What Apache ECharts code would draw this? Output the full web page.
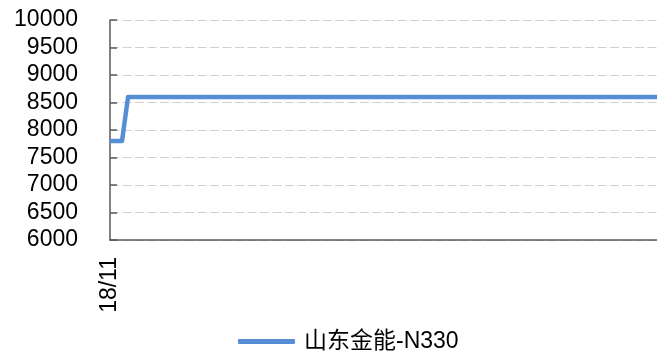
<!DOCTYPE html>
<html>
<head>
<meta charset="utf-8">
<script src="https://cdn.jsdelivr.net/npm/echarts@6/dist/echarts.min.js"></script>
<style>
  html, body { margin: 0; padding: 0; background: #fff; }
  #chart { width: 657px; height: 360px; }
</style>
</head>
<body>
<div id="chart"></div>
<script>
// day offsets of the line's vertices, counted from the first date
const dayIndex = [0, 2, 3, 91];
const prices = [7800, 7800, 8600, 8600];
const xLabels = ["18/11"];
const xLabelDays = [0];
const seriesName = "山东金能-N330";

const lineColor = "#558ed5";
const axisColor = "#595959";
const font = "'Liberation Sans', 'Noto Sans CJK SC', sans-serif";

const chart = echarts.init(document.getElementById("chart"));

chart.setOption({
  animation: false,
  backgroundColor: "#fff",
  grid: {
    left: 110,
    right: 0,
    top: 20,
    bottom: 120,
  },
  legend: {
    left: 238,
    top: 330,
    padding: 0,
    icon: "roundRect",
    itemWidth: 57,
    itemHeight: 5,
    itemGap: 0,
    textStyle: {
      color: "#000",
      fontSize: 23,
      fontFamily: font,
      padding: [4, 0, 0, 4],
    },
    data: [seriesName],
  },
  xAxis: {
    type: "value",
    min: dayIndex[0],
    max: dayIndex[dayIndex.length - 1],
    splitLine: { show: false },
    axisLine: {
      lineStyle: { color: axisColor, width: 1.5 },
    },
    axisTick: { show: false },
    axisLabel: {
      customValues: xLabelDays,
      rotate: 90,
      margin: 17,
      color: "#000",
      fontSize: 23,
      fontFamily: font,
      padding: [0, 0, 0, 0],
      formatter: (value) => xLabels[xLabelDays.indexOf(value)] ?? "",
    },
  },
  yAxis: {
    type: "value",
    min: 6000,
    max: 10000,
    interval: 500,
    axisLine: {
      show: true,
      lineStyle: { color: axisColor, width: 1.5 },
    },
    axisTick: {
      show: true,
      inside: true,
      length: 7,
      lineStyle: { color: axisColor, width: 1.5 },
    },
    splitLine: {
      lineStyle: {
        color: "#d0d0d0",
        width: 1,
        type: [9, 3.5],
      },
    },
    axisLabel: {
      margin: 32,
      color: "#000",
      fontSize: 23,
      fontFamily: font,
      formatter: (value) => String(value),
    },
  },
  series: [
    {
      name: seriesName,
      type: "line",
      data: dayIndex.map((d, i) => [d, prices[i]]),
      showSymbol: false,
      itemStyle: { color: lineColor },
      lineStyle: { color: lineColor, width: 4.5, join: "round" },
    },
  ],
});
</script>
</body>
</html>
